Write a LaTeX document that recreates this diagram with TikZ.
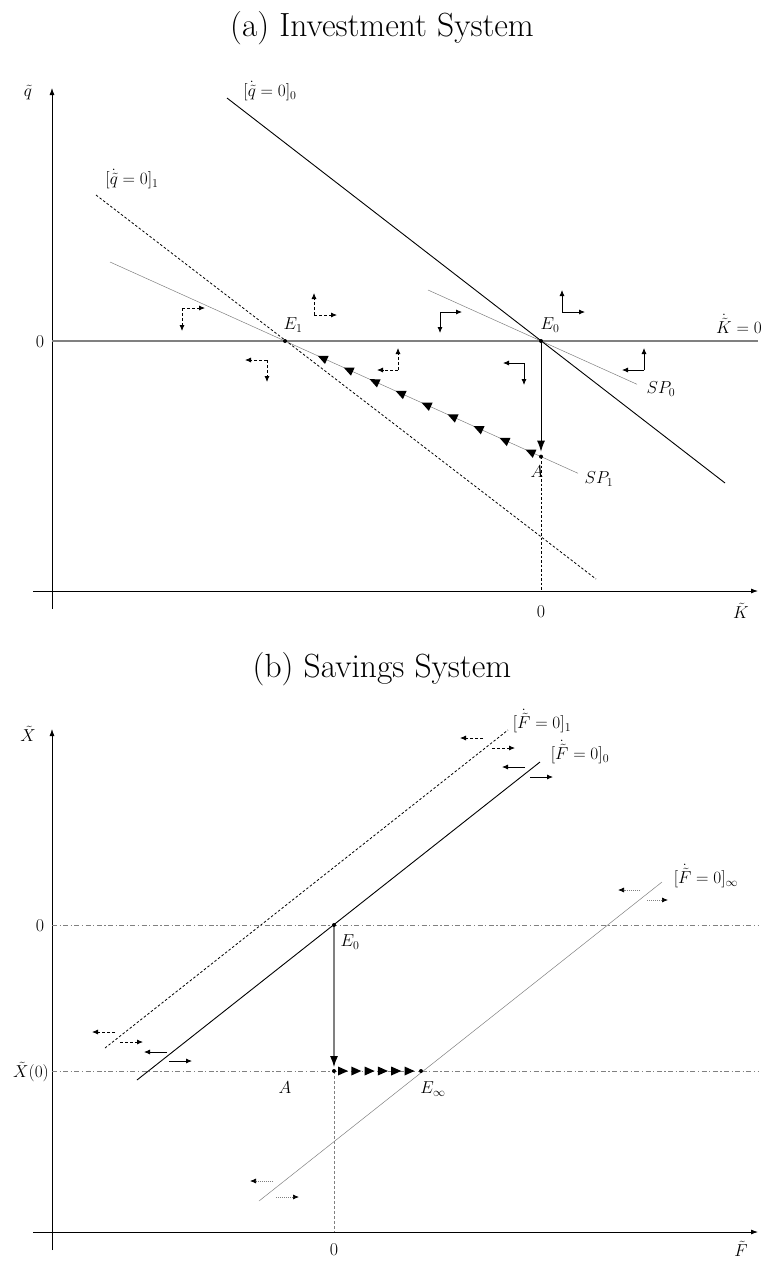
\documentclass[tikz,border=0pt]{standalone}
\usepackage{fontspec}
\usetikzlibrary{arrows.meta,calc}
\tikzset{
  axisline/.style={line width=0.8pt, -{Latex[length=7pt,width=5pt]}},
  zeroline/.style={gray, line width=1.5pt},
  thinline/.style={gray, line width=0.5pt},
  solidline/.style={black, line width=0.9pt},
  dashline/.style={black, line width=0.8pt, dash pattern=on 2.5pt off 2pt},
  dashdot/.style={gray, line width=0.9pt, dash pattern=on 5pt off 2.5pt on 1.2pt off 2.5pt},
  phs/.style={line width=0.8pt, -{Latex[length=6pt,width=5pt]}},
  phd/.style={phs, dash pattern=on 3pt off 2pt},
  pht/.style={gray, line width=0.7pt, dash pattern=on 1pt off 1pt, -{Latex[length=6pt,width=5pt,color=black]}},
  dot/.style={circle, fill, inner sep=0pt, minimum size=4pt},
  lab/.style={font=\fontsize{17.28}{20}\selectfont, inner sep=1pt},
  num/.style={font=\fontsize{18}{21}\selectfont, inner sep=1pt},
  ttl/.style={font=\fontsize{33.5}{40}\selectfont},
}
\begin{document}
\begin{tikzpicture}[x=1pt,y=-1pt]
\useasboundingbox (0,0) rectangle (764,1261);
% ---------------- (a) Investment System ----------------
\node[ttl] (ta) at (382,28) {(a) Investment System};
\coordinate (E0) at (541,341);
\coordinate (E1) at (285,341);
\coordinate (A) at (541,456.6);
\coordinate (qtop) at (52,88);
\coordinate (qbot) at (52,609);
\coordinate (kl) at (33,591);
\coordinate (kr) at (758,591);
\coordinate (zl) at (52,341);
\coordinate (zr) at (758,341);
\coordinate (Aax) at (541,591);
\draw[axisline] (qbot) -- (qtop);
\draw[axisline] (kl) -- (kr);
\draw[zeroline] (zl) -- (zr);
% SP lines
\coordinate (sp1a) at (110,262);
\coordinate (sp1b) at (578,473.3);
\coordinate (sp0a) at (428,290);
\coordinate (sp0b) at (637,384.3);
\draw[thinline] (sp1a) -- (sp1b);
\draw[thinline] (sp0a) -- (sp0b);
% qdot=0 lines
\coordinate (q0a) at (227,98);
\coordinate (q0b) at (725,483);
\coordinate (q1a) at (96,195);
\coordinate (q1b) at (596,579);
\draw[solidline] (q0a) -- (q0b);
\draw[dashline] (q1a) -- (q1b);
% jump and path
\draw[dashline] (A) -- (Aax);
\draw[solidline, -{Latex[length=11pt,width=8pt]}] (E0) -- ($(A)+(0,-5)$);
\foreach \d in {17,45.5,...,246}{
  \fill ($(A)!\d pt!(E1)$) -- ++(10.96,0.02) -- ++(-3.7,8.2) -- cycle;
}
\node[dot] (dE0) at (E0) {};
\node[dot] (dE1) at (E1) {};
\node[dot] (dA) at (A) {};
% phase arrows
\coordinate (c1) at (182,308);
\draw[phd] (c1) -- ++(23,0); \draw[phd] (c1) -- ++(0,23);
\coordinate (c2) at (267,360);
\draw[phd] (c2) -- ++(-22,0); \draw[phd] (c2) -- ++(0,22);
\coordinate (c3) at (314,315);
\draw[phd] (c3) -- ++(0,-22); \draw[phd] (c3) -- ++(23,0);
\coordinate (c4) at (398,370);
\draw[phd] (c4) -- ++(0,-22); \draw[phd] (c4) -- ++(-21,0);
\coordinate (c5) at (440,312);
\draw[phs] (c5) -- ++(22,0); \draw[phs] (c5) -- ++(0,21);
\coordinate (c6) at (562,312);
\draw[phs] (c6) -- ++(0,-22); \draw[phs] (c6) -- ++(23,0);
\coordinate (c7) at (524,363);
\draw[phs] (c7) -- ++(-21,0); \draw[phs] (c7) -- ++(0,22);
\coordinate (c8) at (644,370);
\draw[phs] (c8) -- ++(0,-22); \draw[phs] (c8) -- ++(-22,0);
% labels
\node[lab] (lq) at (28,93) {$\tilde{q}$};
\node[lab] (lk) at (741,611) {$\tilde{K}$};
\node[num] (l0a) at (40,342) {0};
\node[num] (l0b) at (541,612) {0};
\node[lab] (lq0) at (270,91) {$[\dot{\tilde{q}}=0]_0$};
\node[lab] (lq1) at (132,179) {$[\dot{\tilde{q}}=0]_1$};
\node[lab] (lE1) at (293,325) {$E_1$};
\node[lab] (lE0) at (550,325) {$E_0$};
\node[lab, anchor=east] (lkd) at (763,324) {$\dot{\tilde{K}}=0$};
\node[lab] (lsp0) at (661,389) {$SP_0$};
\node[lab] (lsp1) at (599,479) {$SP_1$};
\node[lab] (lA) at (537,472) {$A$};
% ---------------- (b) Savings System ----------------
\node[ttl] (tb) at (382,669) {(b) Savings System};
\coordinate (bE0) at (334,925);
\coordinate (bA) at (334,1071);
\coordinate (Einf) at (421,1071);
\coordinate (xtop) at (52,729);
\coordinate (xbot) at (52,1250);
\coordinate (fl) at (33,1232);
\coordinate (fr) at (758,1232);
\coordinate (z0l) at (52,925);
\coordinate (z0r) at (758,925);
\coordinate (x0l) at (52,1071);
\coordinate (x0r) at (758,1071);
\coordinate (bAax) at (334,1232);
\draw[axisline] (xbot) -- (xtop);
\draw[axisline] (fl) -- (fr);
\draw[dashdot] (z0l) -- (z0r);
\draw[dashdot] (x0l) -- (x0r);
\coordinate (f1a) at (105,1048);
\coordinate (f1b) at (508,730);
\coordinate (f0a) at (137,1080);
\coordinate (f0b) at (540,762);
\coordinate (fia) at (259,1201);
\coordinate (fib) at (662,882);
\draw[dashline] (f1a) -- (f1b);
\draw[solidline] (f0a) -- (f0b);
\draw[thinline] (fia) -- (fib);
\draw[gray, line width=1pt, dash pattern=on 3pt off 2pt] (bA) -- (bAax);
\draw[gray, line width=1.2pt, -{Latex[length=11pt,width=8pt,color=black]}] (bE0) -- ($(bA)+(0,-4)$);
\foreach \d in {14,27.3,...,81}{
  \fill ($(bA)!\d pt!(Einf)$) -- ++(-10,-4.5) -- ++(0,9) -- cycle;
}
\node[dot] (dbE0) at (bE0) {};
\node[dot] (dbA) at (bA) {};
\node[dot] (dEinf) at (Einf) {};
% horizontal phase arrows
\draw[phd] (483,738) -- (460,738);
\draw[phd] (492,748) -- (515,748);
\draw[phd] (115,1032) -- (92,1032);
\draw[phd] (120,1042) -- (143,1042);
\draw[phs] (525,767) -- (502,767);
\draw[phs] (530,777) -- (553,777);
\draw[phs] (167,1052) -- (144,1052);
\draw[phs] (169,1061) -- (192,1061);
\draw[pht] (640,890) -- (618,890);
\draw[pht] (647,900) -- (668,900);
\draw[pht] (273,1181) -- (250,1181);
\draw[pht] (276,1197) -- (299,1197);
% labels
\node[lab] (lx) at (28,734) {$\tilde{X}$};
\node[lab] (lf) at (741,1249) {$\tilde{F}$};
\node[num] (l0c) at (40,926) {0};
\node[num, anchor=east] (lx0) at (50,1072) {$\tilde{X}(0)$};
\node[num] (l0d) at (334,1250) {0};
\node[lab] (lbE0) at (350,942) {$E_0$};
\node[lab] (lbA) at (285,1088) {$A$};
\node[lab] (lEinf) at (433,1089) {$E_\infty$};
\node[lab] (lf1) at (542,721) {$[\dot{\tilde{F}}=0]_1$};
\node[lab] (lf0) at (580,752) {$[\dot{\tilde{F}}=0]_0$};
\node[lab] (lfi) at (706,876) {$[\dot{\tilde{F}}=0]_\infty$};
\end{tikzpicture}
\end{document}
